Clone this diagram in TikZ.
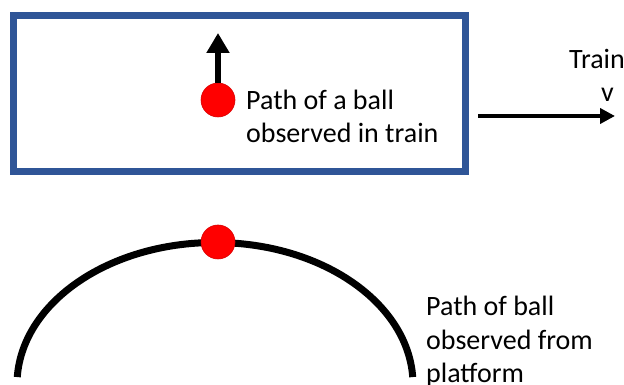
\documentclass[tikz,border=0pt]{standalone}
\usepackage{fontspec}
\setmainfont{Carlito}
\usetikzlibrary{arrows.meta}
\definecolor{boxblue}{RGB}{47,85,151}
\definecolor{ballred}{RGB}{255,0,0}
\begin{document}
\begin{tikzpicture}[x=1pt,y=1pt,
  ball/.style={circle,fill=ballred,draw=ballred!85!black,line width=0.6pt,minimum size=34pt,inner sep=0pt},
  lbl/.style={inner sep=0pt,align=left,anchor=base west,font=\fontsize{28}{33.5}\selectfont},
  bigarrow/.style={line width=6.5pt,-{Triangle[length=20pt,width=22pt]}},
  movearrow/.style={line width=4pt,-{Triangle[length=15pt,width=15pt]}}]
\useasboundingbox (0,0) rectangle (624,385);
% train box
\draw[boxblue,line width=6.5pt] (13.5,213.5) rectangle (465.5,369.5);
\node[ball] (b1) at (218,285) {};
\coordinate (tip1) at (218,352);
\draw[bigarrow] (b1.north) -- (tip1);
\node[lbl] (t1) at (246,242) {Path of a ball\\observed in train};
% train motion
\coordinate (ms) at (478,269);
\coordinate (me) at (615,269);
\draw[movearrow] (ms) -- (me);
\node[lbl] (tr) at (569,316) {Train};
\node[lbl] (tv) at (601,283.5) {v};
% platform path
\draw[line width=7pt] (215,0.5) ++(177:198 and 142) arc[start angle=177,end angle=3,x radius=198,y radius=142];
\node[ball] (b2) at (218,143) {};
\node[lbl] (t2) at (426,2) {Path of ball\\observed from\\platform};
\end{tikzpicture}
\end{document}
